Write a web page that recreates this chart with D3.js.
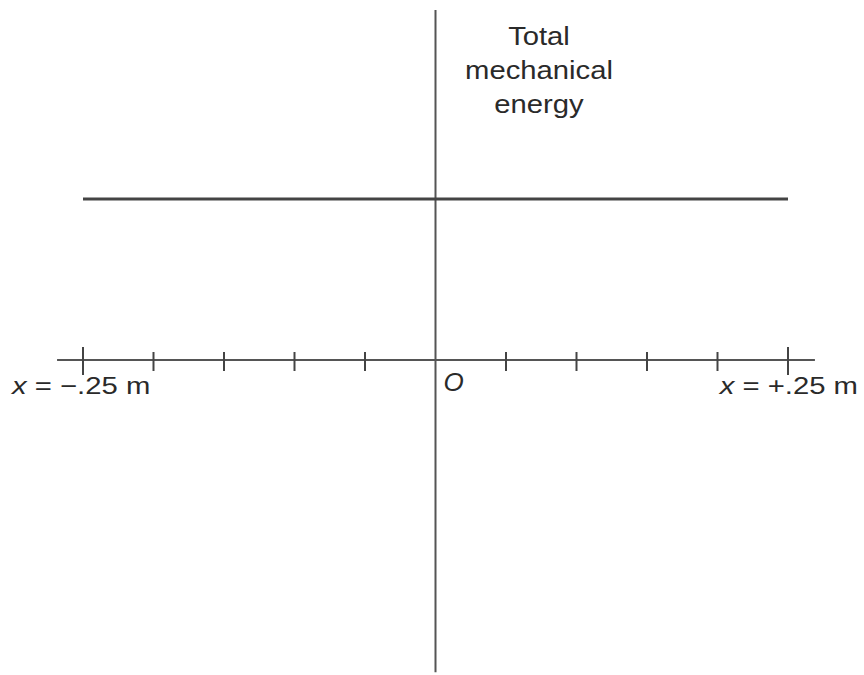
<!DOCTYPE html>
<html><head><meta charset="utf-8">
<script src="https://cdn.jsdelivr.net/npm/d3@7"></script>
<style>body{margin:0;background:#fff}svg{display:block}</style>
</head><body>
<svg id="c" width="864" height="675"></svg>
<script>
// data
const xTicks = [-0.25,-0.2,-0.15,-0.1,-0.05,0,0.05,0.1,0.15,0.2,0.25];
const xExtent = [-0.2684, 0.2691];
const yExtent = [-1.94, 2.174];
const energy = 1;            // total mechanical energy (relative)
const energyRange = [-0.25, 0.25];
const titleLines = ["Total","mechanical","energy"];
const leftLabel = ["x"," = −.25 m"];
const rightLabel = ["x"," = +.25 m"];

const svg = d3.select("#c");
const x = d3.scaleLinear().domain([-0.25,0.25]).range([83,788]);
const y = d3.scaleLinear().domain([0,1]).range([360,199]);
const ink = "#2a2a2a";
const font = "Liberation Sans, Arial, sans-serif";

// vertical axis
svg.append("line").attr("x1",x(0)).attr("x2",x(0))
  .attr("y1",y(yExtent[1])).attr("y2",y(yExtent[0]))
  .attr("stroke","#555").attr("stroke-width",2);

// horizontal axis
svg.append("line").attr("x1",x(xExtent[0])).attr("x2",x(xExtent[1]))
  .attr("y1",y(0)).attr("y2",y(0))
  .attr("stroke","#555").attr("stroke-width",2);

// ticks
const isEnd = d => Math.abs(Math.abs(d)-0.25)<1e-9;
svg.selectAll("line.tick").data(xTicks.filter(d=>d!==0)).enter().append("line")
  .attr("class","tick")
  .attr("x1",d=>x(d)).attr("x2",d=>x(d))
  .attr("y1",d=>isEnd(d) ? y(0)-13 : y(0)-8)
  .attr("y2",d=>isEnd(d) ? y(0)+15 : y(0)+11)
  .attr("stroke","#444").attr("stroke-width",2);

// energy line
svg.append("line").attr("x1",x(energyRange[0])).attr("x2",x(energyRange[1]))
  .attr("y1",y(energy)).attr("y2",y(energy))
  .attr("stroke","#444").attr("stroke-width",3);

// title
const t = svg.append("text").attr("font-family",font)
  .attr("font-size",25).attr("fill",ink).attr("text-anchor","middle")
  .attr("transform","translate(539,0) scale(1.17,1)");
titleLines.forEach((s,i)=>{
  t.append("tspan").attr("x",0).attr("y",45+i*34).text(s);
});

function label(parts, xpos, anchor){
  const tx = svg.append("text").attr("font-family",font)
    .attr("font-size",24).attr("fill",ink).attr("text-anchor",anchor)
    .attr("transform",`translate(${xpos},394) scale(1.22,1)`);
  tx.append("tspan").attr("font-style","italic").text(parts[0]);
  tx.append("tspan").text(parts[1]);
}
label(leftLabel, 12, "start");
label(rightLabel, 858, "end");

svg.append("text").attr("x",x(0)+8).attr("y",391)
  .attr("font-family",font).attr("font-style","italic")
  .attr("font-size",26).attr("fill",ink).text("O");
</script>
</body></html>
